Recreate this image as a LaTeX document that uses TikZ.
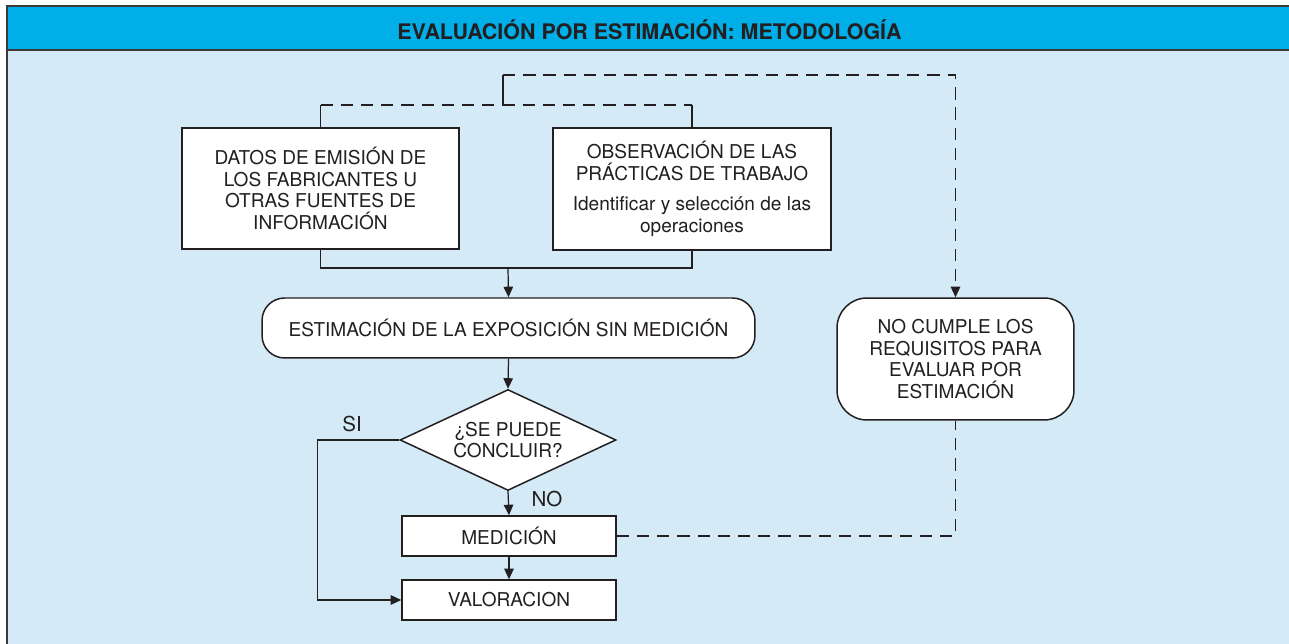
\documentclass[tikz,border=0pt]{standalone}
\usepackage{fontspec}
\setmainfont{TeX Gyre Heros}
\usepackage{tikz}
\usetikzlibrary{arrows.meta,shapes.geometric}
\definecolor{azulcab}{HTML}{00AEE8}
\definecolor{azulfondo}{HTML}{D4EAF7}
\definecolor{gristexto}{HTML}{231F20}
\definecolor{grislinea}{HTML}{3A3A3C}
\tikzset{
  caja/.style={draw=gristexto,line width=0.85pt,fill=white,align=center,inner sep=0pt},
  cajaredonda/.style={caja,rounded corners=0.45cm},
  rombo/.style={diamond,draw=gristexto,line width=0.85pt,fill=white,align=center,inner sep=0pt,
    aspect=2.14,minimum width=4.32cm,minimum height=2.02cm},
  linea/.style={draw=gristexto,line width=0.7pt},
  punta/.style={-{Triangle[length=6pt,width=5.4pt]}},
  flecha/.style={linea,punta},
  guion/.style={linea,dash pattern=on 7pt off 4.5pt},
  etiqueta/.style={font=\fontsize{11.7}{13}\selectfont},
}
\begin{document}
\begin{tikzpicture}[x=0.02cm,y=-0.02cm,font=\fontsize{10.85}{12.3}\selectfont,text=gristexto]
\useasboundingbox (0,0) rectangle (1289,644);
% fondo y cabecera
\fill[azulfondo] (7,6) rectangle (1289,644);
\fill[azulcab] (7,6) rectangle (1289,50);
\draw[grislinea,line width=1.1pt] (7,644) -- (7,6) -- (1289,6);
\draw[grislinea,line width=1.1pt] (7,50) -- (1289,50);
\node[font=\fontsize{12.2}{14}\selectfont\bfseries] (titulo) at (649.5,29.5) {EVALUACIÓN POR ESTIMACIÓN: METODOLOGÍA};

% cajas
\node[caja,minimum width=5.54cm,minimum height=2.42cm] (datos) at (320.5,188.5)
  {DATOS DE EMISIÓN DE\\LOS FABRICANTES U\\OTRAS FUENTES DE\\INFORMACIÓN};
\node[caja,minimum width=5.56cm,minimum height=2.44cm] (observa) at (692,189)
  {OBSERVACIÓN DE LAS\\PRÁCTICAS DE TRABAJO\\[5pt]Identificar y selección de las\\operaciones};
\node[cajaredonda,minimum width=9.86cm,minimum height=1.2cm] (estima) at (508.5,328)
  {ESTIMACIÓN DE LA EXPOSICIÓN SIN MEDICIÓN};
\node[rombo] (concluir) at (508,440) {¿SE PUEDE\\CONCLUIR?};
\node[caja,minimum width=4.28cm,minimum height=0.8cm] (medicion) at (509,536) {MEDICIÓN};
\node[caja,minimum width=4.28cm,minimum height=0.8cm] (valora) at (509,600) {VALORACION};
\node[cajaredonda,rounded corners=0.6cm,minimum width=4.74cm,minimum height=2.44cm] (nocumple) at (955.5,359)
  {NO CUMPLE LOS\\REQUISITOS PARA\\EVALUAR POR\\ESTIMACIÓN};

% conexiones
\coordinate (union) at (508,268);
\coordinate (arriba) at (503,105);
\coordinate (retorno) at (503,75);
\draw[linea] (datos.south) |- (union) -| (observa.south);
\draw[flecha] (union) -- (estima.north);
\draw[linea] (datos.north) -- (datos.north |- arriba);
\draw[linea] (observa.north) -- (observa.north |- arriba);
\draw[guion] (datos.north |- arriba) -- (observa.north |- arriba);
\draw[linea] (arriba) -- (retorno);
\draw[guion,punta] (retorno) -| (nocumple.north);
\draw[flecha] (estima.south) -- (concluir.north);
\draw[flecha] (concluir.south) -- (medicion.north);
\draw[flecha] (medicion.south) -- (valora.north);
\draw[flecha] (concluir.west) -- ++(-82,0) coordinate (esquina) |- (valora.west);
\draw[guion] (medicion.east) -| (nocumple.south);
\node[etiqueta] (si) at (352,424) {SI};
\node[etiqueta] (no) at (547,499) {NO};
\end{tikzpicture}
\end{document}
